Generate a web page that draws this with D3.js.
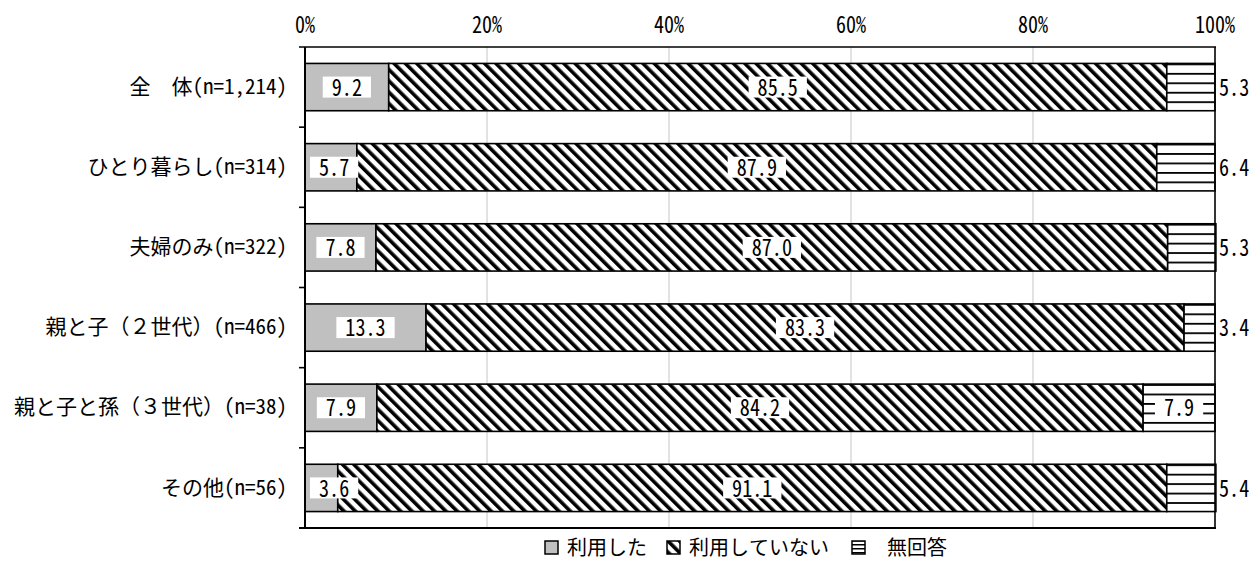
<!DOCTYPE html>
<html><head><meta charset="utf-8">
<script src="https://cdn.jsdelivr.net/npm/d3@7"></script>
<style>
html,body{margin:0;padding:0;background:#fff;}
svg{display:block;}
text{font-family:"Noto Sans Mono CJK JP","Noto Sans CJK JP",sans-serif;fill:#000;}
</style></head>
<body><svg id="chart" width="1257" height="575"></svg>
<script>
const categories = ["全　体(n=1,214)","ひとり暮らし(n=314)","夫婦のみ(n=322)","親と子（２世代）(n=466)","親と子と孫（３世代）(n=38)","その他(n=56)"];
const seriesNames = ["利用した","利用していない","無回答"];
const used    = [9.2, 5.7, 7.8, 13.3, 7.9, 3.6];
const notUsed = [85.5, 87.9, 87.0, 83.3, 84.2, 91.1];
const noAns   = [5.3, 6.4, 5.3, 3.4, 7.9, 5.4];
const xTicks  = [0, 20, 40, 60, 80, 100];

const rows = categories.map((c,i)=>({cat:c, s0:used[i], s1:notUsed[i], s2:noAns[i]}));
const keys = ["s0","s1","s2"];
const stack = d3.stack().keys(keys)(rows);

const svg = d3.select("#chart");
const X0 = 305, X1 = 1215, Y0 = 47, Y1 = 528;
const x = d3.scaleLinear().domain([0,100]).range([X0, X1]);
const y = d3.scaleBand().domain(categories).range([Y0, Y1]).paddingInner(0.41).paddingOuter(0.205);

const NUM_FS = 24, NUM_SX = 0.84;
function numText(g, cx, cy, str, anchor){
  return g.append("text").attr("transform",`translate(${cx},${cy}) scale(${NUM_SX},1)`)
    .attr("dy","0.36em").attr("text-anchor",anchor||"middle").attr("font-size",NUM_FS).text(str);
}

const defs = svg.append("defs");
const diag = defs.append("pattern").attr("id","diag").attr("patternUnits","userSpaceOnUse")
  .attr("width",8).attr("height",8).attr("patternTransform","rotate(-45)");
diag.append("rect").attr("width",8).attr("height",8).attr("fill","#fff");
diag.append("rect").attr("width",3.6).attr("height",8).attr("fill","#000");

categories.forEach((c,i)=>{
  const p = defs.append("pattern").attr("id","hz"+i).attr("patternUnits","userSpaceOnUse")
    .attr("x",0).attr("y",y(c)).attr("width",10).attr("height",y.bandwidth()/5);
  p.append("rect").attr("width",10).attr("height",y.bandwidth()/5).attr("fill","#fff");
  p.append("rect").attr("width",10).attr("height",1.8).attr("fill","#000");
});
const hzLeg = defs.append("pattern").attr("id","hzLeg").attr("patternUnits","userSpaceOnUse")
  .attr("x",0).attr("y",0).attr("width",10).attr("height",4);
hzLeg.append("rect").attr("width",10).attr("height",4).attr("fill","#fff");
hzLeg.append("rect").attr("width",10).attr("height",1.5).attr("fill","#000");

const fills = [()=>"#c0c0c0", ()=>"url(#diag)", (i)=>"url(#hz"+i+")"];

// gridlines
svg.append("g").selectAll("line").data(xTicks.filter(t=>t>0&&t<100)).join("line")
  .attr("x1",d=>x(d)).attr("x2",d=>x(d)).attr("y1",Y0).attr("y2",Y1)
  .attr("stroke","#d9d9d9").attr("stroke-width",1.5);

// bars
stack.forEach((layer,k)=>{
  svg.append("g").selectAll("rect").data(layer).join("rect")
    .attr("x",d=>x(d[0])).attr("width",d=>x(d[1])-x(d[0]))
    .attr("y",d=>y(d.data.cat)).attr("height",y.bandwidth())
    .attr("fill",(d,i)=>fills[k](i))
    .attr("stroke","#000").attr("stroke-width",1.6);
});

// frame
const frame = svg.append("g").attr("stroke","#000").attr("fill","none");
frame.append("line").attr("x1",X0-6).attr("x2",X1+1).attr("y1",Y0).attr("y2",Y0).attr("stroke-width",1.6);
frame.append("line").attr("x1",X0-6).attr("x2",X1+1).attr("y1",Y1).attr("y2",Y1).attr("stroke-width",2);
frame.append("line").attr("x1",X0).attr("x2",X0).attr("y1",Y0).attr("y2",Y1).attr("stroke-width",2);
frame.append("line").attr("x1",X1).attr("x2",X1).attr("y1",Y0).attr("y2",Y1).attr("stroke-width",1.6);
const step = y.step();
frame.selectAll("line.tk").data(d3.range(1,categories.length)).join("line").attr("class","tk")
  .attr("x1",X0-6).attr("x2",X0).attr("y1",i=>Y0+i*step).attr("y2",i=>Y0+i*step).attr("stroke-width",1.6);

// top axis labels (drawn through the x scale)
const gTop = svg.append("g");
xTicks.forEach(t=>{
  gTop.append("text").attr("transform",`translate(${x(t)},${Y0-14}) scale(0.87,1)`)
    .attr("text-anchor","middle").attr("font-size",23).text(t+"%");
});

// left axis labels
const axLeft = d3.axisLeft(y).tickSize(0).tickPadding(18);
const gLeft = svg.append("g").attr("transform",`translate(${X0},0)`).call(axLeft);
gLeft.select(".domain").remove();
gLeft.selectAll("text").attr("font-size",21).attr("font-family",null).attr("fill","#000")
  .style("font-family",'"Noto Sans Mono CJK JP","Noto Sans CJK JP",sans-serif');

// value labels
const fmt = d3.format(".1f");
const boxes = svg.append("g");
const lab = svg.append("g");
stack.forEach((layer,k)=>{
  layer.forEach((d,i)=>{
    const v = d[1]-d[0];
    const w = x(d[1])-x(d[0]);
    const cy = y(d.data.cat)+y.bandwidth()/2;
    const outside = (k===2 && w<60);
    if(outside){
      numText(lab, X1+4, cy, fmt(v), "start");
    } else {
      let cx = (x(d[0])+x(d[1]))/2;
      const t = numText(lab, cx, cy, fmt(v));
      const bw = t.node().getComputedTextLength()*NUM_SX+18;
      if(cx-bw/2 < X0+5){ cx = X0+5+bw/2; t.attr("transform",`translate(${cx},${cy}) scale(${NUM_SX},1)`); }
      boxes.append("rect").attr("x",cx-bw/2).attr("y",cy-10.5).attr("width",bw).attr("height",21).attr("fill","#fff");
    }
  });
});

// legend
const legX = [545, 667, 852];
const legTX = [567, 689, 887];
const lg = svg.append("g");
seriesNames.forEach((n,k)=>{
  lg.append("rect").attr("x",legX[k]).attr("y",541).attr("width",13).attr("height",13)
    .attr("fill",k===0?"#c0c0c0":(k===1?"url(#diag)":"url(#hzLeg)")).attr("stroke","#000").attr("stroke-width",1.5);
  lg.append("text").attr("x",legTX[k]).attr("y",548).attr("dy","0.36em").attr("font-size",20).text(n);
});
</script></body></html>
